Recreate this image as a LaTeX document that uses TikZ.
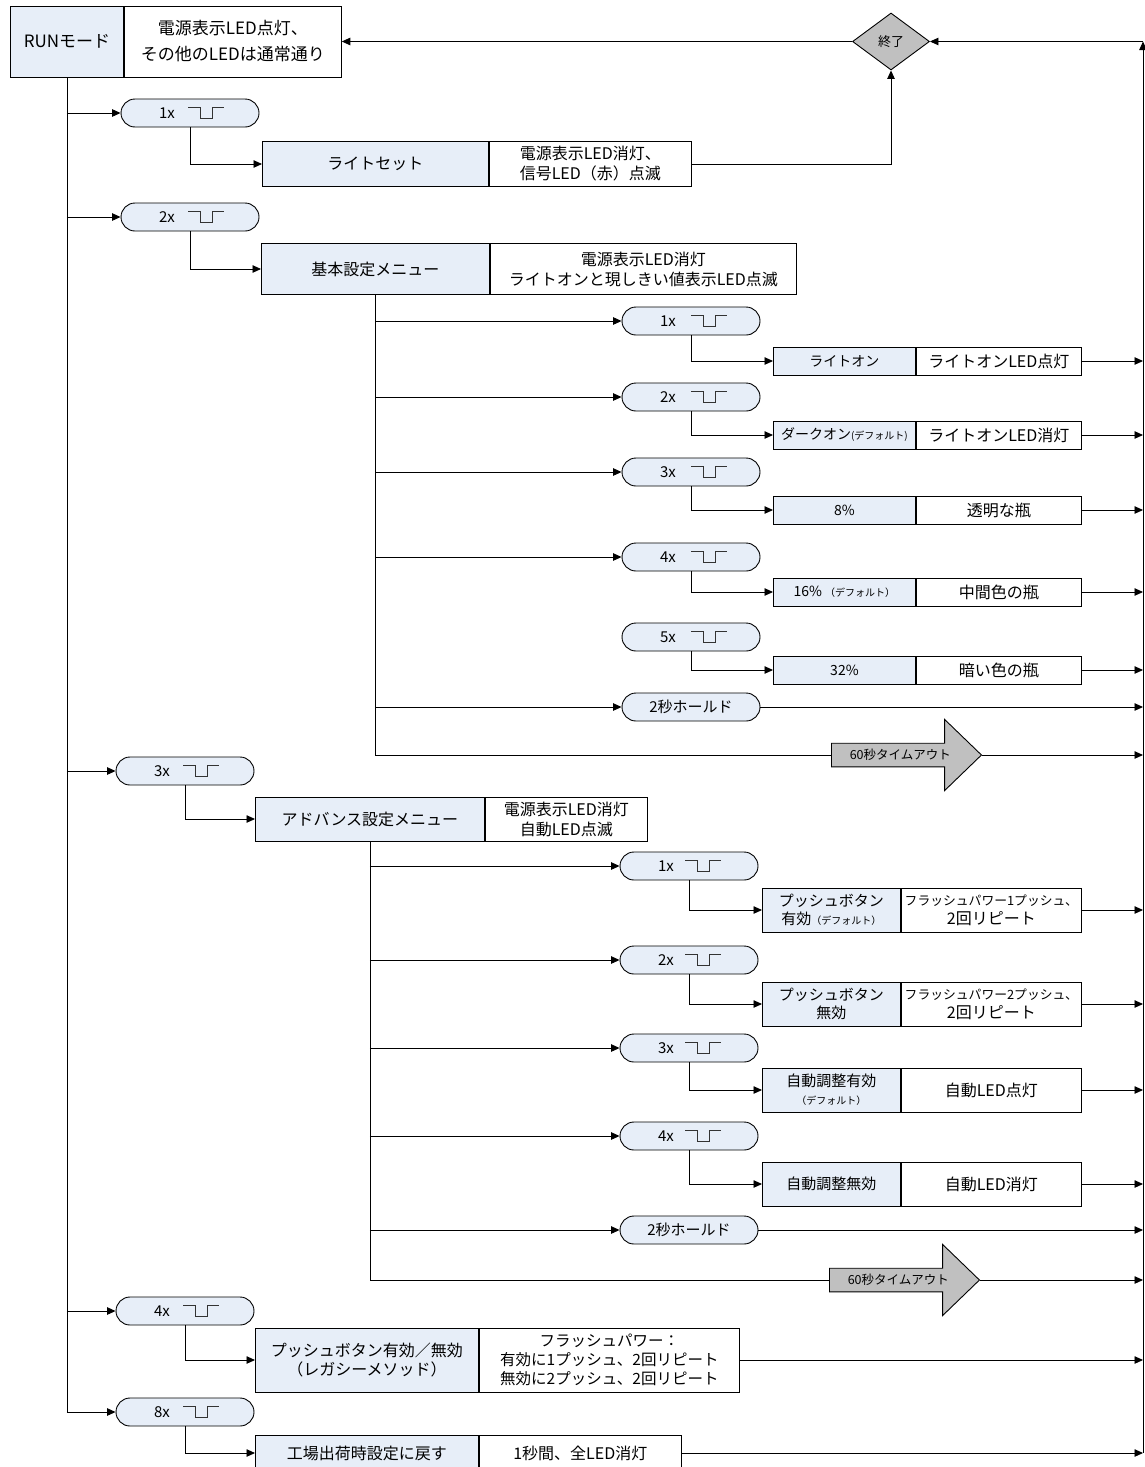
\documentclass[tikz,border=0pt]{standalone}
\usepackage{fontspec}
\setmainfont{Noto Sans CJK JP}
\usetikzlibrary{shapes.geometric,shapes.misc,shapes.arrows,arrows.meta}
\definecolor{boxblue}{RGB}{231,238,248}
\definecolor{boxgray}{RGB}{192,192,192}
\newcommand{\smallnote}[1]{{\fontsize{10}{11}\selectfont #1}}
\tikzset{pulse/.pic={\draw[line width=0.8pt,black!80] (-18,-5.5) -- (-6,-5.5) -- (-6,5.5) -- (6,5.5) -- (6,-5.5) -- (18,-5.5);}}

\begin{document}
\begin{tikzpicture}[x=1pt,y=-1pt,line width=0.9pt,>={Triangle[length=8.5pt,width=7.5pt]}]
        \tikzstyle{every node}=[inner sep=2pt,font=\fontsize{15}{18}\selectfont]
        \tikzstyle{lbl}=[draw,fill=boxblue,minimum height=28pt,align=center,anchor=west]
        \tikzstyle{desc}=[draw,fill=white,minimum height=28pt,align=center,anchor=west]
        \tikzstyle{pill}=[draw,fill=boxblue,rounded rectangle,minimum width=142pt,minimum height=28pt]
        \tikzstyle{gate}=[draw,fill=boxgray,diamond,aspect=1.35,minimum width=77pt,minimum height=57pt,inner sep=0pt,font=\fontsize{13}{15}\selectfont]
        \tikzstyle{timeout}=[draw,fill=boxgray,single arrow,single arrow head extend=23.5pt,single arrow tip angle=88,minimum width=71pt,minimum height=150pt,inner ysep=5.5pt,anchor=tail,font=\fontsize{12.5}{14}\selectfont]
        \useasboundingbox (0,0) rectangle (1145,1467);

        % RUN mode and exit
        \node[lbl,minimum width=113pt,minimum height=71pt,font=\fontsize{17}{20}\selectfont] (runl) at (10,41.5) {RUNモード};
        \node[desc,minimum width=217pt,minimum height=71pt,font=\fontsize{17}{26}\selectfont] (rund) at (runl.east) {電源表示LED点灯、\\その他のLEDは通常通り};
        \node[gate] (stop) at (891,41.5) {終了};
        \coordinate (rtop) at (1143,41.5);
        \coordinate (rbot) at (1143,1453);

        % first level
        \foreach \n/\x/\y/\c in {1/190/113/1x, 2/190/217/2x, 3/185/771/3x, 4/185/1311/4x, 5/185/1412/8x} {
            \node[pill] (tap\n) at (\x,\y) {\makebox[62pt][l]{\c}};
            \pic at ([xshift=16pt]tap\n.center) {pulse};
        }
        \tikzstyle{every node}=[inner sep=2pt,font=\fontsize{16}{20}\selectfont]
        \node[lbl,minimum width=226pt,minimum height=45pt] (menu1) at (262,164) {ライトセット};
        \node[desc,minimum width=202pt,minimum height=45pt] (info1) at (menu1.east) {電源表示LED消灯、\\信号LED（赤）点滅};
        \node[lbl,minimum width=228pt,minimum height=51pt] (menu2) at (261,269) {基本設定メニュー};
        \node[desc,minimum width=306pt,minimum height=51pt] (info2) at (menu2.east) {電源表示LED消灯\\ライトオンと現しきい値表示LED点滅};
        \node[lbl,minimum width=229pt,minimum height=44pt] (menu3) at (255,819) {アドバンス設定メニュー};
        \node[desc,minimum width=162pt,minimum height=44pt] (info3) at (menu3.east) {電源表示LED消灯\\自動LED点滅};
        \node[lbl,minimum width=223pt,minimum height=64pt,font=\fontsize{16}{19}\selectfont] (menu4) at (255,1360) {プッシュボタン有効／無効\\（レガシーメソッド）};
        \node[desc,minimum width=260pt,minimum height=64pt,font=\fontsize{15.5}{19}\selectfont] (info4) at (menu4.east) {フラッシュパワー：\\有効に1プッシュ、2回リピート\\無効に2プッシュ、2回リピート};
        \node[lbl,minimum width=223pt,minimum height=36pt] (menu5) at (255,1453) {工場出荷時設定に戻す};
        \node[desc,minimum width=202pt,minimum height=36pt] (info5) at (menu5.east) {1秒間、全LED消灯};
        \tikzstyle{every node}=[inner sep=2pt,font=\fontsize{15}{18}\selectfont]

        % basic settings
        \node[timeout] (bout) at (831,755) {60秒タイムアウト};
        \node[pill] (bhold) at (691,707) {2秒ホールド};
        \foreach \n/\p/\b/\c/\l/\d/\a in {1/321/361/1x/{ライトオン}/{ライトオンLED点灯}/1,
                2/397/435/2x/{ダークオン\smallnote{(デフォルト)}}/{ライトオンLED消灯}/1,
                3/472/510/3x/{8\%}/{透明な瓶}/1,
                4/557/592/4x/{16\% \smallnote{（デフォルト）}}/{中間色の瓶}/1,
                5/637/670/5x/{32\%}/{暗い色の瓶}/0} {
            \node[pill] (btap\n) at (691,\p) {\makebox[62pt][l]{\c}};
            \pic at ([xshift=18pt]btap\n.center) {pulse};
            \node[lbl,minimum width=142pt,font=\fontsize{14}{17}\selectfont] (bset\n) at (773,\b) {\l};
            \node[desc,minimum width=165pt,font=\fontsize{16}{19}\selectfont] (binfo\n) at (bset\n.east) {\d};
            \ifnum\a=1 \draw[->] (btap\n.west -| menu2.south) -- (btap\n.west); \fi
            \draw[->] (btap\n.south) |- (bset\n.west);
            \draw[->] (binfo\n.east) -- (binfo\n.east -| rtop);
        }
        \draw (menu2.south) |- (bout.tail);
        \draw[->] (bhold.west -| menu2.south) -- (bhold.west);
        \draw[->] (bhold.east) -- (bhold.east -| rtop);
        \draw[->] (bout.tip) -- (bout.tip -| rtop);

        % advanced settings
        \node[timeout] (aout) at (829,1280) {60秒タイムアウト};
        \node[pill] (ahold) at (689,1230) {2秒ホールド};
        \foreach \n/\p/\b/\c/\l/\d in {1/866/910/1x/{プッシュボタン\\有効\smallnote{（デフォルト）}}/{\fontsize{12.8}{17}\selectfont フラッシュパワー1プッシュ、\\2回リピート},
                2/960/1004/2x/{プッシュボタン\\無効}/{\fontsize{12.8}{17}\selectfont フラッシュパワー2プッシュ、\\2回リピート},
                3/1048/1090/3x/{自動調整有効\\\smallnote{（デフォルト）}}/{自動LED点灯},
                4/1136/1184/4x/{自動調整無効}/{自動LED消灯}} {
            \node[pill] (atap\n) at (689,\p) {\makebox[62pt][l]{\c}};
            \pic at ([xshift=14pt]atap\n.center) {pulse};
            \node[lbl,minimum width=138pt,minimum height=44pt] (aset\n) at (762,\b) {\l};
            \node[desc,minimum width=180pt,minimum height=44pt,inner xsep=1pt,font=\fontsize{16}{19}\selectfont] (ainfo\n) at (aset\n.east) {\d};
            \draw[->] (atap\n.west -| menu3.south) -- (atap\n.west);
            \draw[->] (atap\n.south) |- (aset\n.west);
            \draw[->] (ainfo\n.east) -- (ainfo\n.east -| rtop);
        }
        \draw (menu3.south) |- (aout.tail);
        \draw[->] (ahold.west -| menu3.south) -- (ahold.west);
        \draw[->] (ahold.east) -- (ahold.east -| rtop);
        \draw[->] (aout.tip) -- (aout.tip -| rtop);

        % main line and return
        \draw (runl.south) -- (runl.south |- tap5.west);
        \foreach \n in {1,...,5} {
            \draw[->] (tap\n.west -| runl.south) -- (tap\n.west);
            \draw[->] (tap\n.south) |- (menu\n.west);
        }
        \draw[->] (info1.east) -| (stop.south);
        \foreach \n in {4,5} \draw[->] (info\n.east) -- (info\n.east -| rtop);
        \draw[->] (rbot) -- (rtop);
        \draw[->] (rtop) -- (stop.east);
        \draw[->] (stop.west) -- (rund.east);
    \end{tikzpicture}
\end{document}
